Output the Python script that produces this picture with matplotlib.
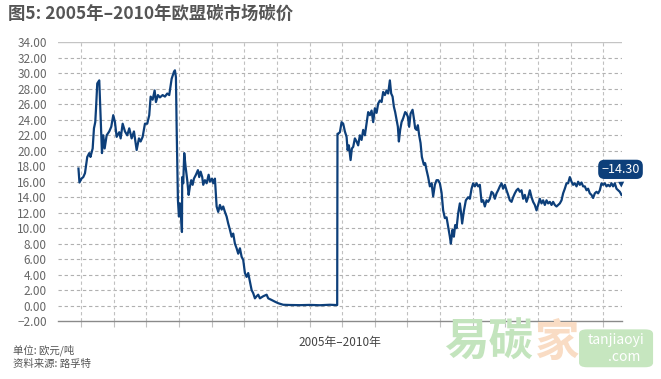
import numpy as np
from matplotlib import pyplot as plt
from matplotlib.patches import FancyBboxPatch

plt.rcParams['font.family'] = ['Noto Sans CJK SC', 'DejaVu Sans']

# trading-period index (arbitrary time unit) and EUA price, EUR/t
t = [0.5, 1.5, 3.5, 5.3, 7.0, 9.3, 11.3, 12.5, 14.7, 16.0,
     17.3, 18.0, 19.3, 21.3, 22.7, 24.0, 25.3, 26.7, 28.7, 31.3,
     33.3, 35.3, 37.0, 38.7, 41.3, 42.7, 44.7, 47.0, 49.3, 51.3,
     53.7, 56.0, 58.7, 61.0, 62.7, 64.7, 67.0, 69.3, 71.3, 72.7,
     74.7, 76.7, 78.0, 80.0, 82.0, 84.7, 87.0, 89.3, 91.3, 93.7,
     96.0, 97.0, 98.0, 98.7, 100.0, 101.0, 102.0, 103.0, 104.0, 104.3,
     105.3, 106.3, 107.7, 109.3, 110.7, 112.0, 113.3, 114.7, 116.0, 118.0,
     120.0, 121.3, 122.7, 124.3, 125.3, 127.0, 128.7, 130.7, 132.0, 134.0,
     135.3, 137.0, 138.7, 140.3, 142.0, 143.7, 145.3, 147.0, 148.7, 150.3,
     152.0, 153.7, 155.3, 157.0, 158.7, 160.3, 162.0, 163.7, 165.3, 167.0,
     168.7, 170.3, 172.0, 173.7, 175.3, 177.0, 178.7, 180.3, 182.0, 185.3,
     188.7, 190.3, 193.7, 197.0, 200.3, 205.3, 212.0, 222.0, 232.0, 242.0,
     252.0, 257.0, 259.3, 259.6, 260.3, 262.0, 263.7, 265.3, 267.0, 268.7,
     269.7, 271.0, 272.7, 274.0, 275.3, 277.0, 278.7, 280.3, 282.0, 283.7,
     285.3, 287.0, 288.7, 290.3, 292.0, 293.7, 295.3, 297.0, 298.7, 300.3,
     302.0, 303.7, 305.3, 307.0, 308.7, 310.3, 312.0, 313.3, 314.7, 316.0,
     317.3, 318.7, 320.0, 321.0, 322.3, 323.7, 325.3, 327.3, 328.7, 330.0,
     331.3, 332.7, 334.7, 336.0, 337.3, 338.7, 340.0, 341.3, 342.7, 344.0,
     346.0, 347.3, 348.7, 350.3, 352.0, 353.7, 355.3, 357.0, 358.7, 360.3,
     362.0, 363.7, 365.3, 367.0, 368.7, 370.3, 372.0, 373.0, 374.7, 376.0,
     377.3, 378.7, 380.3, 382.0, 383.0, 384.3, 386.0, 388.0, 390.3, 392.0,
     393.7, 395.3, 397.0, 398.7, 400.3, 402.0, 403.7, 405.3, 407.0, 408.7,
     410.3, 412.0, 413.7, 415.3, 417.0, 418.7, 420.3, 422.0, 423.7, 425.3,
     427.0, 428.7, 430.3, 432.0, 433.7, 435.3, 437.0, 438.7, 440.3, 442.0,
     443.7, 445.3, 447.0, 448.7, 450.3, 452.0, 453.7, 455.3, 457.0, 458.7,
     460.3, 462.0, 463.7, 465.3, 467.0, 468.7, 470.3, 472.0, 473.7, 475.3,
     477.0, 478.7, 480.3, 482.0, 483.7, 485.3, 487.0, 488.7, 490.3, 492.0,
     493.7, 495.3, 497.0, 498.7, 500.3, 502.0, 503.7, 505.3, 507.0, 508.7,
     510.3, 512.0, 513.7, 515.3, 517.0, 518.7, 520.3, 522.0, 523.7, 525.3,
     527.0, 528.7, 530.3, 532.0, 533.7, 535.3, 537.0, 538.7, 540.3, 542.0,
     543.7]

price = [17.7, 15.9, 16.4, 16.6, 17.1, 19.2, 19.7, 19.2, 20.3, 22.9,
         23.7, 25.3, 28.7, 29.1, 24.2, 19.7, 22.0, 20.3, 22.0, 22.5,
         23.1, 24.6, 23.7, 21.8, 22.4, 21.6, 23.5, 22.5, 22.0, 22.9,
         21.6, 22.5, 20.1, 21.6, 21.2, 21.8, 23.5, 23.5, 24.6, 27.0,
         26.6, 27.8, 26.3, 27.2, 26.9, 27.2, 27.0, 27.4, 27.2, 29.3,
         30.2, 30.4, 29.5, 23.1, 13.6, 11.5, 13.2, 11.9, 9.5, 16.6,
         15.8, 19.7, 17.9, 16.2, 14.3, 15.4, 16.2, 15.6, 16.4, 16.9,
         17.5, 16.6, 17.3, 16.6, 15.6, 16.2, 15.8, 16.9, 16.0, 16.4,
         15.8, 16.4, 12.8, 12.1, 13.0, 12.4, 12.8, 12.1, 11.5, 10.6,
         9.8, 8.9, 9.3, 8.0, 7.4, 6.7, 7.4, 6.3, 5.9, 4.2,
         3.7, 4.2, 3.1, 2.0, 1.6, 0.93, 1.2, 1.4, 0.93, 1.2,
         1.4, 0.93, 0.72, 0.5, 0.3, 0.1, 0.07, 0.05, 0.08, 0.04,
         0.1, 0.08, 0.06, 22.2, 22.2, 22.4, 23.7, 23.5, 22.5, 21.8,
         20.1, 20.7, 18.8, 20.3, 20.5, 21.6, 21.2, 20.7, 22.0, 21.4,
         22.7, 22.0, 23.5, 25.0, 24.6, 25.2, 23.7, 25.5, 24.9, 26.1,
         26.5, 26.3, 27.6, 27.2, 27.8, 27.4, 29.1, 27.4, 27.0, 25.7,
         25.0, 24.0, 23.1, 21.2, 22.7, 23.7, 24.2, 25.0, 24.8, 24.4,
         23.1, 24.8, 25.3, 24.2, 22.9, 22.7, 23.3, 22.0, 21.0, 19.2,
         18.2, 18.4, 17.5, 16.6, 15.4, 15.8, 14.1, 15.6, 16.2, 16.2,
         15.8, 14.6, 12.3, 11.3, 11.4, 10.2, 8.9, 8.0, 9.8, 8.9,
         10.4, 10.0, 11.9, 13.2, 12.2, 10.6, 12.2, 13.6, 14.0, 13.8,
         15.1, 15.8, 15.4, 15.8, 15.4, 15.6, 13.4, 13.6, 12.8, 13.6,
         13.4, 13.8, 14.7, 14.5, 13.8, 14.5, 14.9, 15.4, 15.8, 15.1,
         15.6, 14.9, 14.3, 13.6, 13.4, 14.0, 14.5, 14.9, 15.1, 14.7,
         14.9, 13.8, 14.3, 13.4, 14.0, 14.9, 14.0, 13.4, 13.0, 12.3,
         13.0, 13.8, 13.2, 13.6, 13.0, 13.6, 13.2, 13.4, 13.0, 13.4,
         13.0, 12.8, 13.0, 13.2, 13.6, 14.5, 15.1, 15.8, 15.8, 16.6,
         16.0, 15.6, 15.8, 15.4, 16.0, 15.6, 15.9, 15.4, 15.4, 14.9,
         15.1, 14.5, 14.3, 13.9, 14.5, 14.7, 14.5, 14.9, 15.8, 15.6,
         15.8, 15.4, 15.6, 15.4, 15.8, 15.4, 15.8, 15.1, 14.9, 14.7,
         14.3]

assert len(t) == len(price)

y_ticks = np.arange(-2, 35, 2)
x_grid = 3 + 32.66 * np.arange(17)

title = '图5: 2005年–2010年欧盟碳市场碳价'
x_label = '2005年–2010年'
unit_note = '单位: 欧元/吨'
source_note = '资料来源: 路孚特'
last_label = '−14.30'

navy = '#0d3f7a'

fig = plt.figure(figsize=(6.61, 3.79), dpi=100)
ax = fig.add_axes([0.0877, 0.153, 0.853, 0.735])

for v in y_ticks[1:-1]:
    ax.axhline(v, color='#b0b0b0', lw=0.8, ls=(0, (3, 2.5)), zorder=1)
ax.axhline(y_ticks[-1], color='#c4c4c4', lw=1.0, zorder=1)

ax.set_xticks(x_grid)
ax.set_xticklabels([])
ax.grid(axis='x', color='#c0c0c0', lw=0.8, ls=(0, (3, 2.5)), zorder=1)
ax.tick_params(axis='x', length=4, color='#c0c0c0', width=0.8)

ax.plot(t, price, color=navy, lw=1.6, zorder=3)

ax.set_xlim(-20, 544)
ax.set_ylim(-2, 34)
ax.set_yticks(y_ticks)
ax.set_yticklabels([f'{v:.2f}'.replace('-', '−') for v in y_ticks])
ax.tick_params(axis='y', length=0, pad=8, labelsize=8.5, labelcolor='#666666')

for s in ['top', 'right', 'left']:
    ax.spines[s].set_visible(False)
ax.spines['bottom'].set_color('#8a8a8a')
ax.spines['bottom'].set_linewidth(1.0)

ax.set_xlabel(x_label, fontsize=8.5, color='#444444', labelpad=3)

ax.annotate(last_label, xy=(t[-1], price[-1] + 0.6), xytext=(t[-1] - 1, price[-1] + 3.3),
            ha='center', va='center', fontsize=9, color='white',
            bbox=dict(boxstyle='round,pad=0.25,rounding_size=0.5', fc=navy, ec='none'),
            arrowprops=dict(arrowstyle='wedge,tail_width=0.5', fc=navy, ec='none'),
            annotation_clip=False, zorder=5)

fig.text(0.012, 0.963, title, fontsize=12.5, fontweight='bold', color='#555555', va='center')
fig.text(0.02, 0.075, unit_note, fontsize=7.5, color='#555555', va='center')
fig.text(0.02, 0.04, source_note, fontsize=7.5, color='#555555', va='center')

# watermark
fig.text(0.672, 0.095, '易碳', fontsize=32, fontweight='bold', color='#c3e4bd', va='center', ha='left')
fig.text(0.808, 0.095, '家', fontsize=32, fontweight='bold', color='#f9dcc4', va='center', ha='left')
box = FancyBboxPatch((0.879, 0.034), 0.106, 0.094, transform=fig.transFigure,
                     boxstyle='round,pad=0.003,rounding_size=0.012',
                     fc='#c6e6bf', ec='none')
fig.add_artist(box)
fig.text(0.932, 0.103, 'tanjiaoyi', fontsize=10, color='white', ha='center', va='center', style='italic')
fig.text(0.945, 0.058, '.com', fontsize=10, color='white', ha='center', va='center', style='italic')

fig.savefig('out.png', dpi=100, facecolor='white')
